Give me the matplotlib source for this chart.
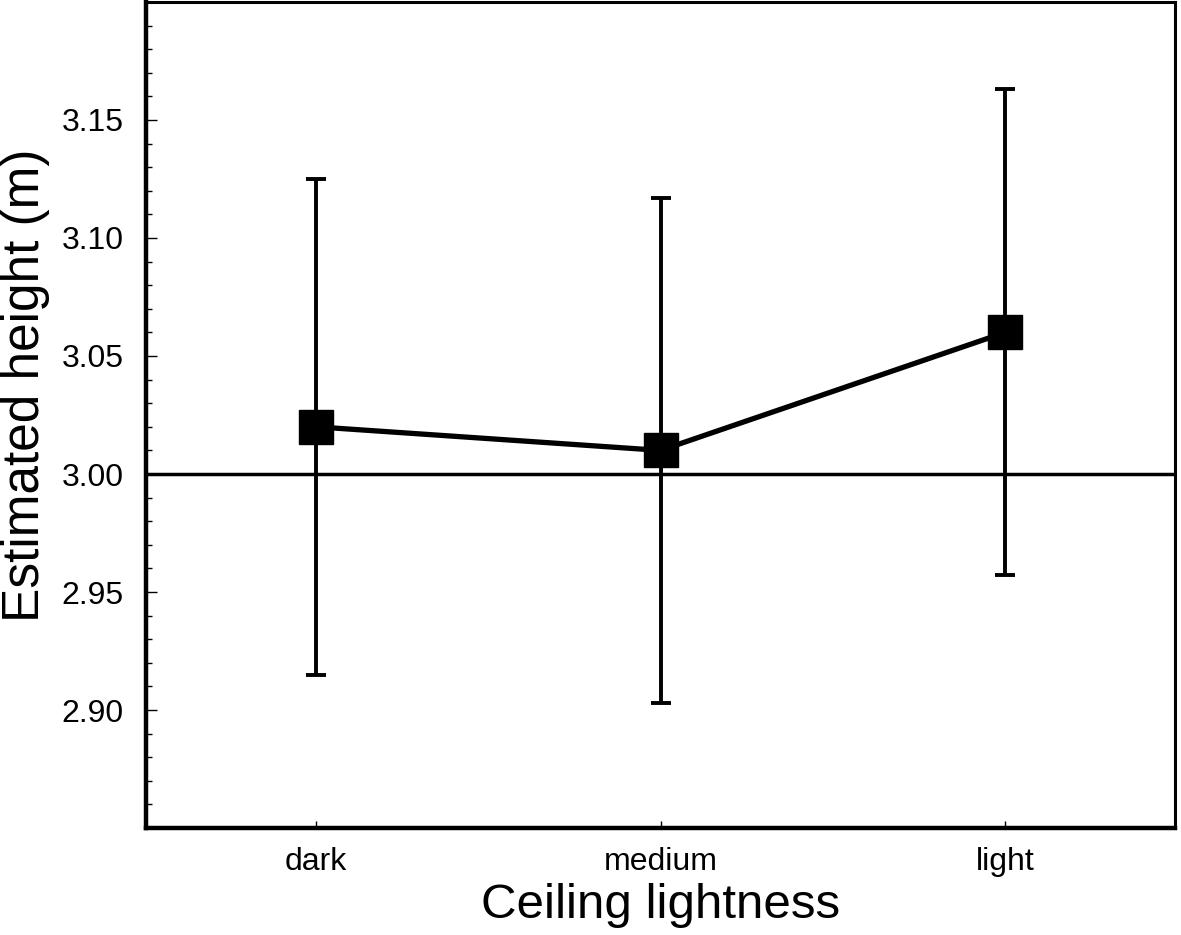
import numpy as np
import matplotlib
matplotlib.use("Agg")
import matplotlib.pyplot as plt
from matplotlib.ticker import MultipleLocator, FormatStrFormatter

# Data
categories = ["dark", "medium", "light"]
means = [3.020, 3.010, 3.060]
err_upper = [3.125, 3.117, 3.163]
err_lower = [2.915, 2.903, 2.957]

plt.rcParams['font.family'] = ['Liberation Sans', 'DejaVu Sans']

fig = plt.figure(figsize=(11.81, 9.35), dpi=100)
ax = fig.add_axes([0.1236, 0.1144, 0.8714, 0.8835])

x = np.arange(len(categories))
means = np.array(means)
yerr = [means - np.array(err_lower), np.array(err_upper) - means]

# reference line at true height
ax.axhline(3.0, color="black", lw=2.5, zorder=1)

ax.errorbar(x, means, yerr=yerr, fmt="none", ecolor="black",
            elinewidth=2.8, capsize=7.5, capthick=2.8, zorder=2)
ax.plot(x, means, color="black", lw=3.8, marker="s", markersize=24,
        markerfacecolor="black", markeredgecolor="black", zorder=3)

ax.set_xlim(-0.493, 2.493)
ax.set_ylim(2.85, 3.20)
ax.set_xticks(x)
ax.set_xticklabels(categories)
ax.yaxis.set_minor_locator(MultipleLocator(0.01))
ax.yaxis.set_major_formatter(FormatStrFormatter("%.2f"))
ax.set_yticks([2.90, 2.95, 3.00, 3.05, 3.10, 3.15])

ax.tick_params(axis="y", which="major", direction="in", length=8, width=1,
               labelsize=23, pad=16)
ax.tick_params(axis="y", which="minor", direction="in", length=4, width=1)
ax.tick_params(axis="x", which="major", direction="in", length=5, width=1,
               labelsize=23, pad=14)

ax.spines["left"].set_linewidth(3.2)
ax.spines["bottom"].set_linewidth(3.2)
ax.spines["top"].set_linewidth(2.2)
ax.spines["right"].set_linewidth(2.2)

ax.set_xlabel("Ceiling lightness", fontsize=35.5, labelpad=4)
ax.set_ylabel("Estimated height (m)", fontsize=37)
ax.yaxis.set_label_coords(-0.0935, 0.536)

fig.savefig("out.png", dpi=100)
